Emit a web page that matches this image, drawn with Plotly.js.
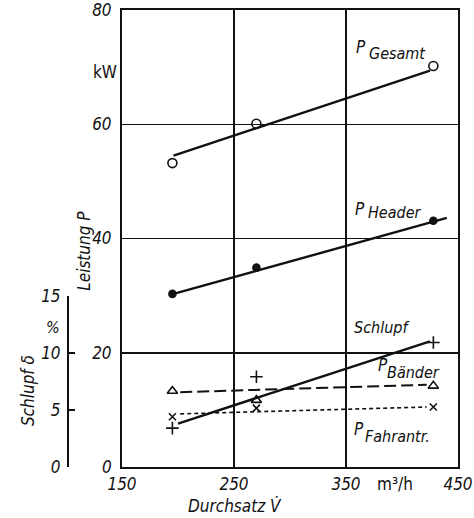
<!DOCTYPE html>
<html><head><meta charset="utf-8">
<script src="https://cdn.plot.ly/plotly-3.0.1.min.js"></script>
<style>html,body{margin:0;padding:0;background:#fff}</style>
</head><body><div id="chart" style="width:474px;height:518px"></div>
<script>
// measured throughput (m3/h)
const throughput = [195, 270, 428];
// power readings (kW)
const pGesamt   = [53.2, 60.1, 70.2];
const pHeader   = [30.3, 34.9, 43.1];
const pBaender  = [13.3, 11.7, 14.2];
const pFahrantr = [8.8, 10.3, 10.5];
// slip readings (%)
const schlupf   = [3.4, 7.9, 10.9];

// drawn trend lines (start / end)
const fitGesamtX = [196, 425],  fitGesamtY = [54.5, 69.4];
const fitHeaderX = [196, 440],  fitHeaderY = [30.3, 43.6];
const fitSchlupfX = [200, 425], fitSchlupfY = [3.8, 11.0];
const fitBaenderX = [202, 422], fitBaenderY = [13.1, 14.4];
const fitFahrX = [202, 422],    fitFahrY = [9.3, 10.5];

const xTicks = [150, 250, 350, 450];
const yTicks = [0, 20, 40, 60, 80];
const sTicks = [0, 5, 10, 15];

const INK = '#111';
const FONT = 'DejaVu Sans Condensed, Liberation Sans Narrow, sans-serif';
const tf = {family: FONT, size: 17, color: INK, style: 'italic'};

function line(x, y, dash, w, ya) {
  return {x: x, y: y, mode: 'lines', yaxis: ya || 'y', hoverinfo: 'skip',
          line: {color: INK, width: w, dash: dash}, showlegend: false};
}
function pts(y, sym, size, ya) {
  return {x: throughput, y: y, mode: 'markers', yaxis: ya || 'y', showlegend: false,
          marker: {symbol: sym, size: size, color: INK, line: {color: INK, width: 1.6}}};
}

const traces = [
  line(fitGesamtX, fitGesamtY, 'solid', 2.4),
  line(fitHeaderX, fitHeaderY, 'solid', 2.4),
  line(fitBaenderX, fitBaenderY, '12px,5px', 2),
  line(fitFahrX, fitFahrY, '4px,3px', 1.6),
  line(fitSchlupfX, fitSchlupfY, 'solid', 2.4, 'y2'),
  pts(pGesamt, 'circle-open', 9),
  pts(pHeader, 'circle', 7),
  pts(pBaender, 'triangle-up-open', 9),
  pts(pFahrantr, 'x-thin-open', 7),
  pts(schlupf, 'cross-thin-open', 9, 'y2')
];

function lab(x, y, text, size, ref) {
  return {x: x, y: y, xref: (ref && ref[0]) || 'x', yref: (ref && ref[1]) || 'y', text: text,
          showarrow: false, xanchor: 'left', yanchor: 'middle',
          font: {family: FONT, size: size, color: INK, style: 'italic'}};
}
function plab(x, y, text, size, angle, style) {
  return {x: x, y: y, xref: 'paper', yref: 'paper', text: text, showarrow: false,
          xanchor: 'center', yanchor: 'middle', textangle: angle || 0,
          font: {family: FONT, size: size, color: INK, style: style || 'italic'}};
}

const annotations = [
  lab(357, 73.6, 'P', 17), lab(368.5, 72.4, 'Gesamt', 16),
  lab(356.5, 45.2, 'P', 17), lab(368, 44.6, 'Header', 16),
  lab(355.5, 24.5, 'Schlupf', 16),
  lab(377, 17.9, 'P', 17), lab(385, 16.6, 'Bänder', 16),
  lab(355, 6.7, 'P', 17), lab(365.5, 5.3, 'Fahrantr.', 16),
  {x: 0.194, y: 69.2, xref: 'paper', yref: 'y', text: 'kW', showarrow: false,
   xanchor: 'center', yanchor: 'middle', font: {family: FONT, size: 17, color: INK}},
  {x: 394, y: -0.037, xref: 'x', yref: 'paper', text: 'm³/h', showarrow: false,
   xanchor: 'center', yanchor: 'middle', font: {family: FONT, size: 17, color: INK}},
  plab(0.491, -0.086, 'Durchsatz V̇', 17),
  plab(0.146, 0.473, 'Leistung P', 17, -90),
  plab(0.018, 0.168, 'Schlupf δ', 17, -90),
  plab(0.075, 0.306, '%', 16)
];

const axisCommon = {showline: true, linecolor: INK, linewidth: 2, mirror: true,
  showgrid: true, gridcolor: INK, gridwidth: 1.5, zeroline: false, ticks: '',
  tickfont: tf, fixedrange: true, ticklabeloverflow: 'allow'};

const layout = {
  width: 474, height: 518,
  margin: {l: 20, r: 16, t: 10, b: 51},
  paper_bgcolor: '#fff', plot_bgcolor: 'rgba(0,0,0,0)',
  showlegend: false,
  font: {family: FONT, color: INK},
  xaxis: Object.assign({}, axisCommon, {range: [150, 450], domain: [0.2329, 1],
    tickvals: xTicks, anchor: 'y', ticklabelstandoff: 1}),
  yaxis: Object.assign({}, axisCommon, {range: [0, 80], domain: [0, 1],
    tickvals: yTicks, anchor: 'x', ticklabelstandoff: 5}),
  yaxis2: {range: [0, 15], domain: [0, 0.375], anchor: 'free', position: 0.1096,
    side: 'left', showline: true, linecolor: INK, linewidth: 2, showgrid: false,
    zeroline: false, ticks: 'inside', ticklen: 6, tickwidth: 2, tickcolor: INK,
    tickvals: sTicks, tickfont: tf, ticklabelstandoff: 3, fixedrange: true,
    ticklabeloverflow: 'allow'},
  annotations: annotations
};

Plotly.newPlot('chart', traces, layout, {staticPlot: true});
</script></body></html>
